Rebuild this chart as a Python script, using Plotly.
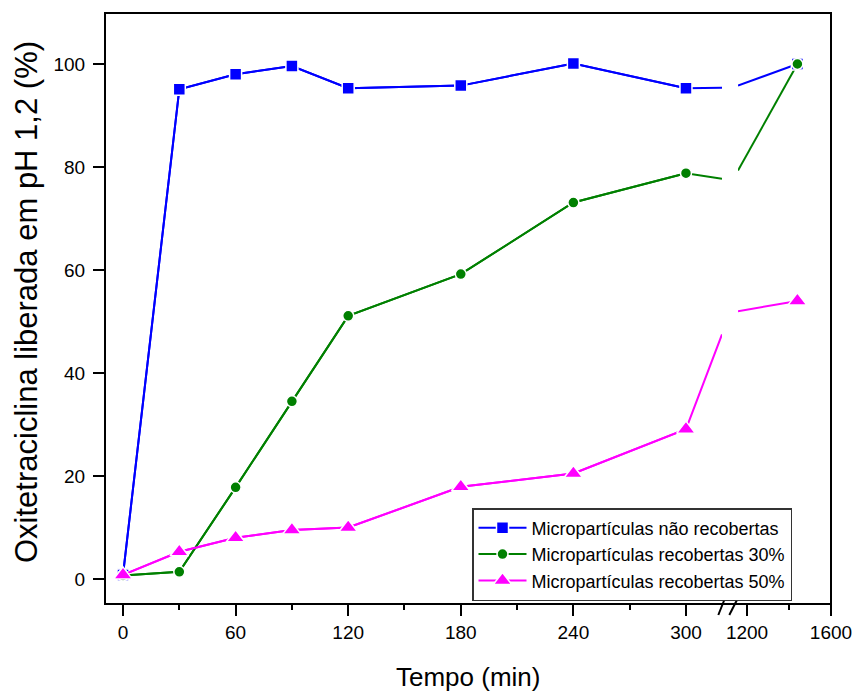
import plotly.graph_objects as go

# Release time points (min) before and after the axis break
time_early = [0, 30, 60, 90, 120, 180, 240, 300]
time_late = [1440]

# Oxytetracycline released at pH 1.2 (%)
nao_recobertas = [0.8, 95.1, 98.0, 99.6, 95.3, 95.8, 100.1, 95.3]
nao_recobertas_late = [100.0]
recobertas_30 = [0.7, 1.4, 17.8, 34.5, 51.1, 59.2, 73.1, 78.8]
recobertas_30_late = [100.0]
recobertas_50 = [0.8, 5.3, 8.0, 9.5, 10.0, 17.9, 20.5, 29.1]
recobertas_50_late = [54.0]

# Where each curve meets the two sides of the axis break
break_lo, break_hi = 319.2, 1157.0
edge_lo = {"nao": 95.4, "r30": 77.7, "r50": 47.5}
edge_hi = {"nao": 95.8, "r30": 79.3, "r50": 52.0}

series_names = [
    "Micropartículas não recobertas",
    "Micropartículas recobertas 30%",
    "Micropartículas recobertas 50%",
]

series = [
    ("nao", series_names[0], nao_recobertas, nao_recobertas_late, "#0000FF", "square", 12),
    ("r30", series_names[1], recobertas_30, recobertas_30_late, "#008000", "circle", 11),
    ("r50", series_names[2], recobertas_50, recobertas_50_late, "#FF00FF", "triangle-up", 16),
]

fig = go.Figure()

for key, name, early, late, color, symbol, msize in series:
    line = dict(color=color, width=2)
    # segment leading into the break (left panel)
    fig.add_trace(go.Scatter(
        x=time_early + [break_lo], y=early + [edge_lo[key]],
        mode="lines", line=line, showlegend=False, hoverinfo="skip",
        xaxis="x", yaxis="y",
    ))
    # segment leaving the break (right panel)
    fig.add_trace(go.Scatter(
        x=[break_hi] + time_late, y=[edge_hi[key]] + late,
        mode="lines", line=line, showlegend=False, hoverinfo="skip",
        xaxis="x2", yaxis="y",
    ))

for key, name, early, late, color, symbol, msize in series:
    # thin white rim leaves a small gap between each symbol and its line
    marker = dict(color=color, symbol=symbol, size=msize,
                  line=dict(width=1.5, color="white"))
    fig.add_trace(go.Scatter(
        x=time_early, y=early, name=name,
        mode="lines+markers", line=dict(color=color, width=2), marker=marker,
        xaxis="x", yaxis="y",
    ))
    fig.add_trace(go.Scatter(
        x=time_late, y=late, name=name,
        mode="markers", marker=marker, showlegend=False,
        xaxis="x2", yaxis="y",
    ))

W, H = 857, 692
L, R, T, B = 105, 26, 13, 88
pw, ph = W - L - R, H - T - B


def px_x(p):
    return (p - L) / pw


def px_y(p):
    return (H - B - p) / ph


tick_font = dict(family="Liberation Sans, Arial, sans-serif", size=19, color="black")
axis_common = dict(
    showline=False, showgrid=False, zeroline=False, automargin=False,
    ticks="outside", ticklen=11, tickwidth=2, tickcolor="black",
    tickfont=tick_font, fixedrange=True,
)

fig.update_layout(
    width=W, height=H,
    margin=dict(l=L, r=R, t=T, b=B, autoexpand=False),
    paper_bgcolor="white", plot_bgcolor="white",
    font=dict(family="Liberation Sans, Arial, sans-serif", color="black"),
    xaxis=dict(
        domain=[0, px_x(722)], range=[-9.6, break_lo],
        tickvals=[0, 60, 120, 180, 240, 300],
        minor=dict(tickvals=[30, 90, 150, 210, 270], ticks="outside",
                   ticklen=5, tickwidth=2, tickcolor="black"),
        anchor="y", **axis_common,
    ),
    xaxis2=dict(
        domain=[px_x(738), 1], range=[break_hi, 1600],
        tickvals=[1200, 1600],
        minor=dict(tickvals=[1400], ticks="outside",
                   ticklen=5, tickwidth=2, tickcolor="black"),
        anchor="y", **axis_common,
    ),
    yaxis=dict(
        range=[-4.85, 109.9], tickvals=[0, 20, 40, 60, 80, 100],
        ticklabelstandoff=4,
        **axis_common,
    ),
    legend=dict(
        x=px_x(472), y=px_y(508), xanchor="left", yanchor="top",
        bgcolor="white", bordercolor="#333333", borderwidth=1.5,
        font=dict(family="Liberation Sans, Arial, sans-serif", size=18, color="black"),
        itemwidth=48, tracegroupgap=0,
    ),
    showlegend=True,
)

# frame around the plotting area
fig.add_shape(type="rect", xref="paper", yref="paper", x0=0, y0=0, x1=1, y1=1,
              line=dict(color="black", width=2), layer="above")

# axis break marks "//"
for x0, x1 in [(718.3, 726.7), (729.3, 740.0)]:
    fig.add_shape(type="line", xref="paper", yref="paper",
                  x0=px_x(x0), y0=px_y(615), x1=px_x(x1), y1=px_y(594),
                  line=dict(color="black", width=2))

fig.add_annotation(
    text="Tempo (min)", xref="paper", yref="paper",
    x=0.5, y=px_y(677), xanchor="center", yanchor="middle",
    showarrow=False, font=dict(size=26, color="black"),
)
fig.add_annotation(
    text="Oxitetraciclina liberada em pH 1,2 (%)", xref="paper", yref="paper",
    x=px_x(26), y=px_y(302), xanchor="center", yanchor="middle", textangle=-90,
    showarrow=False, font=dict(size=31, color="black"),
)

fig.write_html("out.html")
